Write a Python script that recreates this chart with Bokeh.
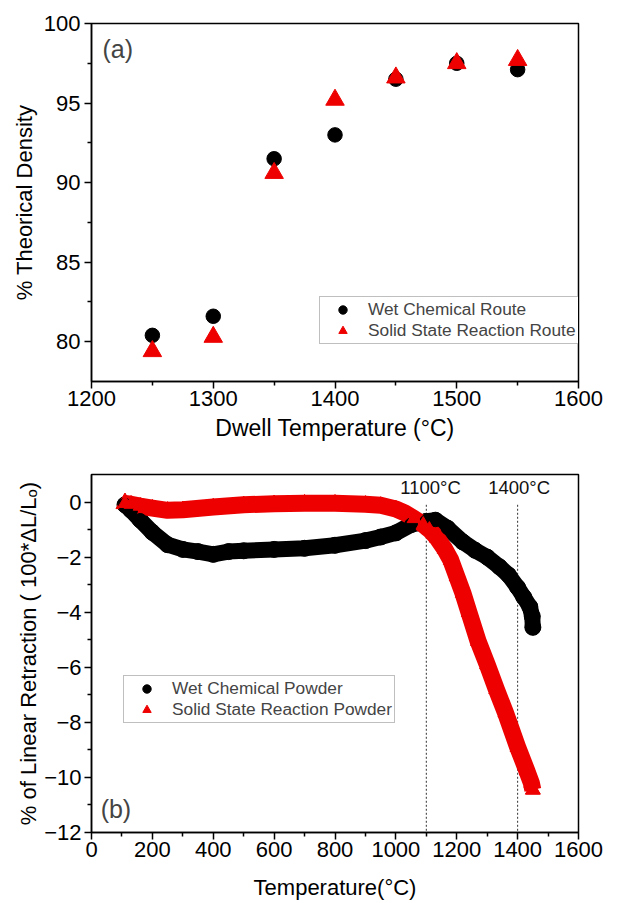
from bokeh.plotting import figure
from bokeh.models import (Range1d, Legend, LegendItem, Label, FixedTicker,
                          ColumnDataSource)
from bokeh.core.properties import value
from bokeh.layouts import column
from bokeh.embed import file_html
from bokeh.resources import INLINE

FONT = "Liberation Sans"
RED = "#ee0000"

# ---------------- (a) data ----------------
dwell_T = [1250, 1300, 1350, 1400, 1450, 1500, 1550]
wet_density = [80.4, 81.6, 91.5, 93.0, 96.5, 97.5, 97.1]
ssr_density = [79.4, 80.3, 90.6, 95.2, 96.6, 97.5, 97.7]

# ---------------- (b) data ----------------
wet_T = [110, 130, 160, 200, 250, 300, 350, 400, 450, 500, 600, 700, 800,
         900, 950, 1000, 1050, 1100, 1130, 1170, 1220, 1260, 1300, 1340,
         1370, 1400, 1420, 1440, 1448, 1450]
wet_shrink = [-0.1, -0.3, -0.65, -1.1, -1.55, -1.72, -1.8, -1.9, -1.8, -1.77,
              -1.72, -1.68, -1.57, -1.4, -1.27, -1.12, -0.82, -0.7, -0.66,
              -0.95, -1.45, -1.75, -2.0, -2.35, -2.65, -3.1, -3.45, -3.8,
              -4.15, -4.55]
ssr_T = [110, 130, 160, 200, 250, 300, 400, 500, 600, 700, 800, 900, 950,
         1000, 1030, 1060, 1090, 1110, 1135, 1160, 1180, 1200, 1220, 1240,
         1270, 1300, 1330, 1360, 1400, 1430, 1445, 1450]
ssr_shrink = [-0.05, -0.08, -0.15, -0.22, -0.3, -0.28, -0.18, -0.1, -0.06,
              -0.04, -0.04, -0.08, -0.12, -0.25, -0.4, -0.6, -0.82, -1.0,
              -1.3, -1.7, -2.1, -2.7, -3.3, -4.0, -5.05, -5.9, -6.8, -7.65,
              -8.9, -9.75, -10.2, -10.45]

marker_T = [1100, 1400]
marker_labels = ["1100°C", "1400°C"]
marker_label_x = [1114, 1405]


def style(p):
    p.outline_line_color = "black"
    p.outline_line_width = 1.5
    p.background_fill_color = "white"
    p.border_fill_color = "white"
    p.xgrid.visible = False
    p.ygrid.visible = False
    for ax in (p.xaxis[0], p.yaxis[0]):
        ax.axis_line_width = 1.5
        ax.major_tick_line_width = 1.5
        ax.minor_tick_line_width = 1.5
        ax.major_tick_in = 0
        ax.major_tick_out = 7
        ax.minor_tick_in = 0
        ax.minor_tick_out = 4
        ax.major_label_text_font = FONT
        ax.major_label_text_font_size = "22px"
        ax.major_label_text_color = "black"
        ax.axis_label_text_font = FONT
        ax.axis_label_text_font_size = "22px"
        ax.axis_label_text_font_style = "normal"
        ax.axis_label_text_color = "black"


# ================= figure (a) =================
pa = figure(width=618, height=450, output_backend="svg", toolbar_location=None,
            x_range=Range1d(1200, 1600), y_range=Range1d(77.5, 100),
            min_border_left=91, min_border_right=36, min_border_top=23,
            min_border_bottom=69)
style(pa)
pa.xaxis.ticker = FixedTicker(ticks=[1200, 1300, 1400, 1500, 1600],
                              minor_ticks=[1250, 1350, 1450, 1550])
pa.yaxis.ticker = FixedTicker(ticks=[80, 85, 90, 95, 100],
                              minor_ticks=[82.5, 87.5, 92.5, 97.5])
pa.xaxis.axis_label = "Dwell Temperature (°C)"
pa.yaxis.axis_label = "% Theorical Density"
pa.xaxis.axis_label_text_font_size = "23px"
pa.xaxis.major_label_standoff = 2
pa.yaxis.major_label_standoff = 4
pa.xaxis.axis_label_standoff = 6
pa.yaxis.axis_label_standoff = 4

ra1 = pa.scatter(dwell_T, wet_density, marker="circle", size=14.5,
                 fill_color="black", line_color="black")
ra2 = pa.scatter(dwell_T, ssr_density, marker="triangle", size=18.5,
                 fill_color=RED, line_color=RED)
pa.add_layout(Label(x=1209, y=98.4, text="(a)", text_font=FONT,
                    text_font_size="25px", text_baseline="middle",
                    text_align="left"))
leg_a = Legend(items=[LegendItem(label="Wet Chemical Route", renderers=[ra1]),
                      LegendItem(label="Solid State Reaction Route", renderers=[ra2])],
               location=(228, 37), margin=0, padding=2, spacing=0,
               glyph_width=41, glyph_height=21, label_height=21,
               label_standoff=5, label_text_font=FONT,
               label_text_font_size="17.3px", border_line_color="#7f7f7f",
               border_line_width=1.5, background_fill_alpha=1)
pa.add_layout(leg_a)

# ================= figure (b) =================
pb = figure(width=618, height=453, output_backend="svg", toolbar_location=None,
            x_range=Range1d(0, 1600), y_range=Range1d(-12, 1),
            min_border_left=91, min_border_right=40, min_border_top=24,
            min_border_bottom=71)
style(pb)
pb.xaxis.ticker = FixedTicker(ticks=list(range(0, 1601, 200)),
                              minor_ticks=list(range(100, 1600, 200)))
pb.yaxis.ticker = FixedTicker(ticks=[-12, -10, -8, -6, -4, -2, 0],
                              minor_ticks=[-11, -9, -7, -5, -3, -1])
pb.xaxis.axis_label = "Temperature(°C)"
pb.yaxis.axis_label = "% of Linear Retraction ( 100*ΔL/Lₒ)"
pb.xaxis.major_label_standoff = 2
pb.yaxis.major_label_standoff = 3
pb.xaxis.axis_label_standoff = 15
pb.yaxis.axis_label_standoff = 0

# dotted reference lines
pb.segment(x0=marker_T, y0=[-0.1, -0.1], x1=marker_T, y1=[-12, -12],
           line_color="#333333", line_width=1, line_dash="2 2")
pb.text(x=marker_label_x, y=[0.53, 0.53], text=marker_labels,
        text_font=value(FONT), text_font_size="18.5px", text_align="center",
        text_baseline="middle", text_color="#111111")

srcw = ColumnDataSource(dict(x=wet_T, y=wet_shrink))
srcs = ColumnDataSource(dict(x=ssr_T, y=ssr_shrink))
pb.line("x", "y", source=srcw, line_width=16, line_color="black",
        line_join="round", line_cap="round")
pb.scatter("x", "y", source=srcw, marker="circle", size=16,
           fill_color="black", line_color="black")
pb.line("x", "y", source=srcs, line_width=17, line_color=RED,
        line_join="round", line_cap="butt")
pb.scatter("x", "y", source=srcs, marker="triangle", size=15,
           fill_color=RED, line_color=RED)
pb.scatter(ssr_T[:1], ssr_shrink[:1], marker="triangle", size=18,
           fill_color=RED, line_color=RED)

# smaller markers drawn inside the bands, used for the legend symbols
lb1 = pb.scatter("x", "y", source=srcw, marker="circle", size=13,
                 fill_color="black", line_color="black")
lb2 = pb.scatter("x", "y", source=srcs, marker="triangle", size=14,
                 fill_color=RED, line_color=RED)
pb.add_layout(Label(x=30, y=-11.15, text="(b)", text_font=FONT,
                    text_font_size="25px", text_baseline="middle",
                    text_align="left"))
leg_b = Legend(items=[LegendItem(label="Wet Chemical Powder", renderers=[lb1]),
                      LegendItem(label="Solid State Reaction Powder", renderers=[lb2])],
               location=(32, 109), margin=0, padding=2, spacing=0,
               glyph_width=41, glyph_height=21, label_height=21,
               label_standoff=5, label_text_font=FONT,
               label_text_font_size="17.3px", border_line_color="#7f7f7f",
               border_line_width=1.5, background_fill_alpha=1)
pb.add_layout(leg_b)

layout = column(pa, pb, spacing=0)
open("out.html", "w").write(file_html(layout, INLINE))
